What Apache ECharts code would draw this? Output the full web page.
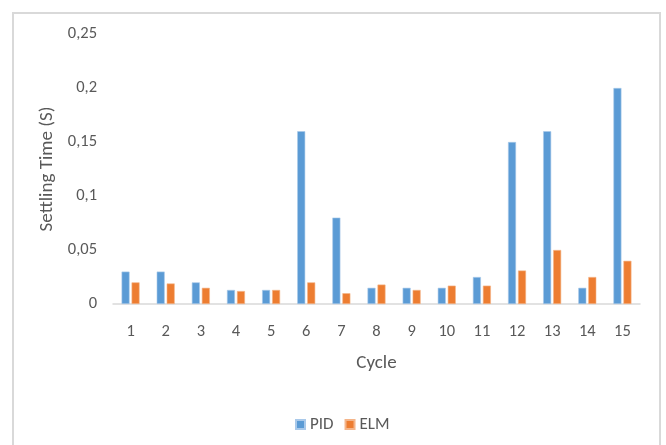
<!DOCTYPE html>
<html>
<head>
<meta charset="utf-8">
<script src="https://cdn.jsdelivr.net/npm/echarts@6/dist/echarts.min.js"></script>
<style>
  html, body { margin: 0; padding: 0; background: #fff; }
  #chart { width: 666px; height: 445px; }
</style>
</head>
<body>
<div id="chart"></div>
<script>
// Settling time per cycle for the two controllers
const cycles = ['1', '2', '3', '4', '5', '6', '7', '8', '9', '10', '11', '12', '13', '14', '15'];
const pidValues = [0.03, 0.03, 0.02, 0.013, 0.013, 0.16, 0.08, 0.015, 0.015, 0.015, 0.025, 0.15, 0.16, 0.015, 0.2];
const elmValues = [0.02, 0.019, 0.015, 0.012, 0.013, 0.02, 0.01, 0.018, 0.013, 0.017, 0.017, 0.031, 0.05, 0.025, 0.04];
const seriesNames = ['PID', 'ELM'];

const textColor = '#595959';
const fontFamily = 'Carlito, Lato, "Open Sans", sans-serif';

const chart = echarts.init(document.getElementById('chart'), null, { renderer: 'canvas' });

chart.setOption({
  animation: false,
  textStyle: { fontFamily: fontFamily, color: textColor },
  graphic: [{
    type: 'rect',
    shape: { x: 13, y: 13, width: 647, height: 445 },
    style: { fill: 'none', stroke: '#d9d9d9', lineWidth: 2 },
    silent: true
  }],
  grid: { left: 113, right: 26, top: 34, bottom: 141, containLabel: false },
  legend: {
    data: seriesNames,
    top: 411,
    left: 290,
    itemWidth: 9,
    itemHeight: 9,
    itemGap: 11,
    icon: 'rect',
    textStyle: { fontSize: 17, color: textColor, fontFamily: fontFamily }
  },
  xAxis: {
    type: 'category',
    data: cycles,
    name: 'Cycle',
    nameLocation: 'middle',
    nameGap: 50,
    nameTextStyle: { fontSize: 19, color: textColor },
    axisLine: { lineStyle: { color: '#d9d9d9', width: 1.5 } },
    axisTick: { show: false },
    axisLabel: { fontSize: 16.5, color: textColor, margin: 19 }
  },
  yAxis: {
    type: 'value',
    min: 0,
    max: 0.25,
    interval: 0.05,
    name: 'Settling Time (S)',
    nameLocation: 'middle',
    nameGap: 54,
    nameTextStyle: { fontSize: 19, color: textColor },
    axisLine: { show: false },
    axisTick: { show: false },
    splitLine: { show: false },
    axisLabel: {
      fontSize: 16.5,
      color: textColor,
      margin: 16,
      formatter: v => String(parseFloat(v.toFixed(2))).replace('.', ',')
    }
  },
  series: [
    {
      name: seriesNames[0],
      type: 'bar',
      data: pidValues,
      barWidth: 8,
      barGap: '25%',
      itemStyle: { color: '#5B9BD5', borderColor: '#a9c9ea', borderWidth: 0.6 }
    },
    {
      name: seriesNames[1],
      type: 'bar',
      data: elmValues,
      barWidth: 8,
      itemStyle: { color: '#ED7D31', borderColor: '#f4b58a', borderWidth: 0.6 }
    }
  ]
});
</script>
</body>
</html>
